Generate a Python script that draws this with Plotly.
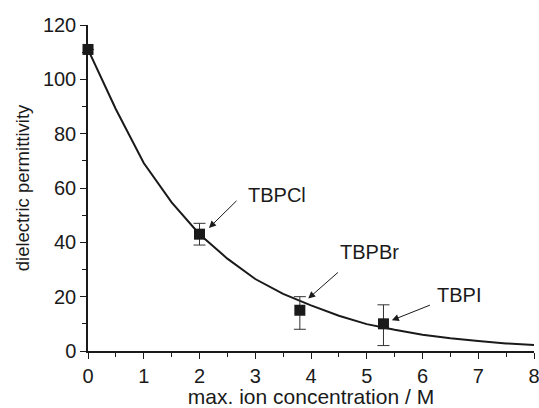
import plotly.graph_objects as go

# Fitted curve
curve_x = [0, 0.5, 1, 1.5, 2, 2.5, 3, 3.5, 4, 4.5, 5, 5.5, 6, 6.5, 7, 7.5, 8]
curve_y = [111, 89, 69.2, 54.7, 43, 34, 26.5, 21, 16.8, 13, 9.9, 7.8, 6, 4.7, 3.7, 2.8, 2.2]

# Measured points
pt_x = [0, 2, 3.8, 5.3]
pt_y = [111, 43, 15, 10]
err_plus = [0, 4, 5, 7]
err_minus = [0, 4, 7, 8]

labels = ["TBPCl", "TBPBr", "TBPI"]
label_x = [2.84, 4.48, 6.22]
label_y = [57.5, 36.5, 20.6]
arrow_tail_x = [2.69, 4.51, 6.16]
arrow_tail_y = [55.8, 29.4, 17.1]
arrow_head_x = [2.17, 3.95, 5.45]
arrow_head_y = [45.3, 19.3, 11.3]

x_ticks = [0, 1, 2, 3, 4, 5, 6, 7, 8]
y_ticks = [0, 20, 40, 60, 80, 100, 120]

FONT = "Liberation Sans, Arial, Helvetica, sans-serif"
INK = "#1a1a1a"

fig = go.Figure()
fig.add_trace(go.Scatter(x=curve_x, y=curve_y, mode="lines",
                         line=dict(color=INK, width=2), hoverinfo="skip",
                         cliponaxis=False, showlegend=False))
fig.add_trace(go.Scatter(x=pt_x, y=pt_y, mode="markers",
                         marker=dict(symbol="square", size=11, color=INK),
                         error_y=dict(type="data", symmetric=False,
                                      array=err_plus, arrayminus=err_minus,
                                      color="#333333", thickness=1, width=6),
                         cliponaxis=False, showlegend=False))

for i, lab in enumerate(labels):
    fig.add_annotation(x=arrow_head_x[i], y=arrow_head_y[i],
                       ax=arrow_tail_x[i], ay=arrow_tail_y[i],
                       xref="x", yref="y", axref="x", ayref="y",
                       text="", showarrow=True, arrowhead=2, arrowsize=1.4,
                       arrowwidth=1, arrowcolor=INK, standoff=0)
    fig.add_annotation(x=label_x[i], y=label_y[i], xref="x", yref="y",
                       text=lab, showarrow=False, xanchor="left",
                       yanchor="middle",
                       font=dict(family=FONT, size=20, color=INK))

axis_common = dict(showline=True, linecolor=INK, linewidth=1.5,
                   ticks="outside", ticklen=6, tickwidth=1.2, tickcolor=INK,
                   showgrid=False, zeroline=False, mirror=False,
                   ticklabeloverflow="allow", automargin=False,
                   tickfont=dict(family=FONT, size=20, color=INK))

fig.update_xaxes(range=[0, 8], tickvals=x_ticks,
                 minor=dict(ticks="outside", ticklen=4, tickwidth=1.2,
                            tickcolor=INK, dtick=0.5, showgrid=False),
                 title=dict(text="max. ion concentration / M",
                            font=dict(family=FONT, size=21, color=INK),
                            standoff=4),
                 **axis_common)
fig.update_yaxes(range=[0, 120], tickvals=y_ticks,
                 minor=dict(ticks="outside", ticklen=4, tickwidth=1.2,
                            tickcolor=INK, dtick=10, showgrid=False),
                 title=dict(text="dielectric permittivity",
                            font=dict(family=FONT, size=18.5, color=INK),
                            standoff=8),
                 **axis_common)

fig.update_layout(width=539, height=408,
                  margin=dict(l=88, r=5, t=25, b=57, autoexpand=False),
                  plot_bgcolor="white", paper_bgcolor="white",
                  font=dict(family=FONT, size=20, color=INK))

fig.write_html("out.html")
